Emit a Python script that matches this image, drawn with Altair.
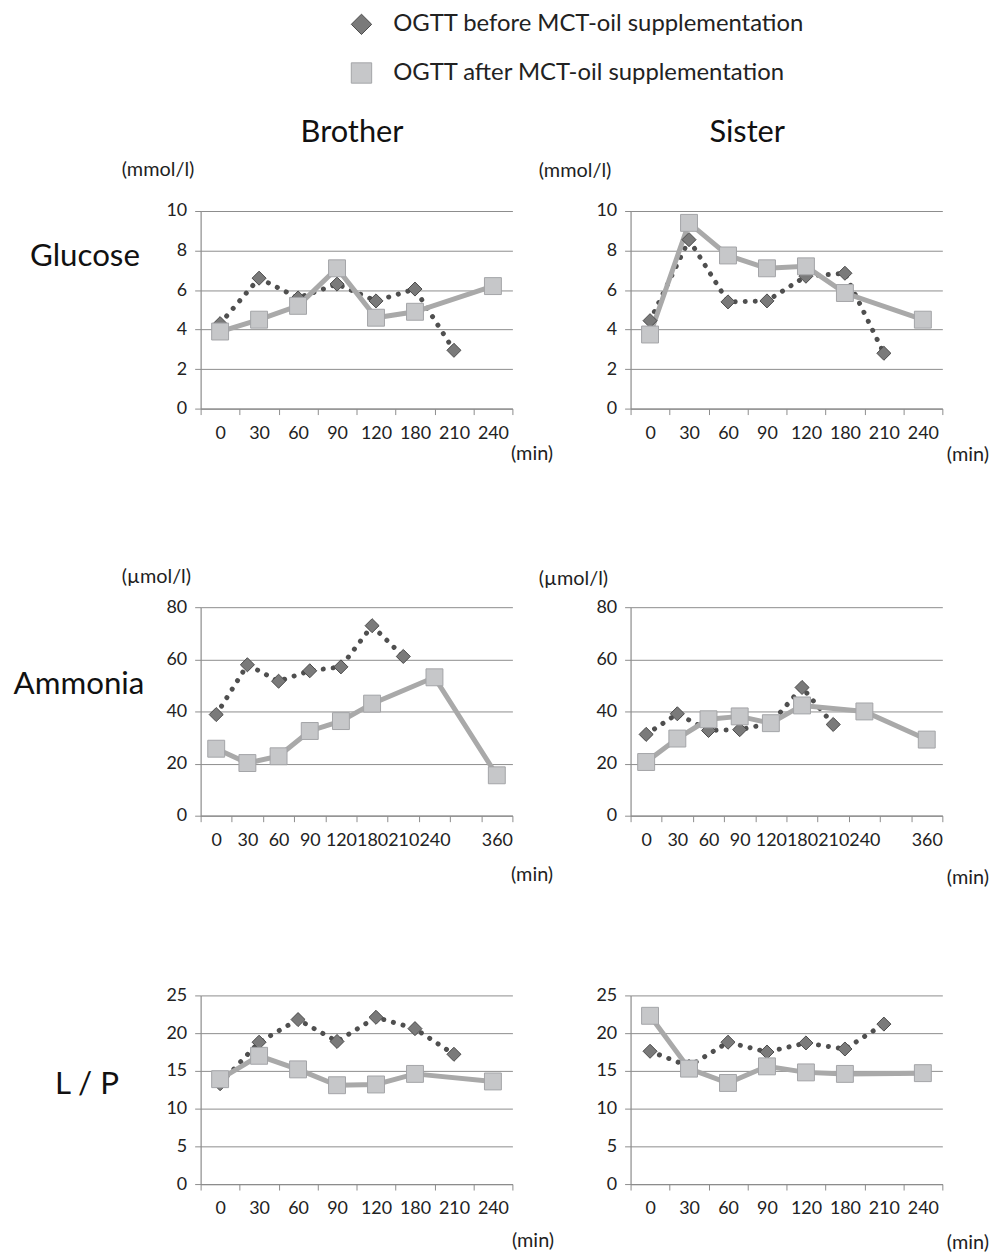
import altair as alt
import pandas as pd

FONT = "Lato"

TIMES_STD = ["0", "30", "60", "90", "120", "180", "210", "240"]
TIMES_NH3 = ["0", "30", "60", "90", "120", "180", "210", "240", " ", "360"]

SERIES = ["OGTT before MCT-oil supplementation", "OGTT after MCT-oil supplementation"]

glu_brother_before = [4.3, 6.6, 5.6, 6.3, 5.45, 6.05, 2.95, None]
glu_brother_after = [3.9, 4.5, 5.2, 7.1, 4.6, 4.9, None, 6.2]
glu_sister_before = [4.45, 8.55, 5.4, 5.45, 6.7, 6.85, 2.8, None]
glu_sister_after = [3.75, 9.4, 7.75, 7.1, 7.2, 5.85, None, 4.5]

nh3_brother_before = [38.8, 57.9, 51.6, 55.6, 57.1, 72.9, 61.1, None, None, None]
nh3_brother_after = [25.7, 20.2, 22.8, 32.5, 36.3, 43.0, None, 53.1, None, 15.5]
nh3_sister_before = [31.2, 39.1, 32.7, 33.0, 35.5, 49.2, 35.0, None, None, None]
nh3_sister_after = [20.6, 29.6, 37.0, 38.1, 35.5, 42.3, None, 40.0, None, 29.2]

lp_brother_before = [13.3, 18.8, 21.8, 18.9, 22.1, 20.6, 17.2, None]
lp_brother_after = [13.9, 17.0, 15.2, 13.1, 13.2, 14.6, None, 13.6]
lp_sister_before = [17.6, 15.6, 18.8, 17.5, 18.7, 17.9, 21.2, None]
lp_sister_after = [22.3, 15.3, 13.4, 15.6, 14.8, 14.6, None, 14.7]

W = 314
GAP_X = 119
GRID = "#8c8c8c"
TEXT = "#1e1e1e"


def make_panel(times, before, after, ymax, ystep, height, top_gap=0,
               unit=None, unit_dx=0, unit_dy=0,
               row_label=None, row_dx=0, row_dy=0,
               header=None, header_dx=0, header_dy=0,
               min_dx=0, min_dy=0, anchor=False, show_legend=False):
    rows = []
    for s, vals in ((SERIES[0], before), (SERIES[1], after)):
        for i, (t, v) in enumerate(zip(times, vals)):
            if v is not None:
                rows.append({"t": t, "v": v, "s": s, "i": i})
    df = pd.DataFrame(rows)
    gh = height + top_gap

    xscale = alt.Scale(type="band", domain=times, paddingInner=0, paddingOuter=0)
    x_main = alt.X(
        "t:N", sort=times, scale=xscale,
        axis=alt.Axis(title="(min)", titleAngle=0, titleAlign="left",
                      titleBaseline="middle", titleX=min_dx, titleY=min_dy,
                      titleFontSize=20, titleFontWeight="normal", titleColor=TEXT,
                      labelAngle=0, tickBand="extent", tickSize=6,
                      labelPadding=10, grid=False, labelFontSize=18),
    )
    x_plain = alt.X("t:N", sort=times, scale=xscale, axis=None)

    yscale = alt.Scale(domain=[0, ymax], nice=False, range=[gh, top_gap])
    yaxis_kw = dict(values=list(range(0, ymax + 1, ystep)), grid=True,
                    tickSize=6, labelPadding=8, labelFontSize=18)
    if row_label:
        y_main = alt.Y("v:Q", scale=yscale,
                       axis=alt.Axis(title=row_label, titleAngle=0, titleAlign="center",
                                     titleBaseline="middle", titleX=row_dx,
                                     titleY=row_dy + top_gap,
                                     titleFontSize=31.5, titleFontWeight="normal",
                                     titleColor="#111", **yaxis_kw))
    elif anchor:
        # transparent anchor text fixing the top-left corner of the whole figure
        y_main = alt.Y("v:Q", scale=yscale,
                       axis=alt.Axis(title=".", titleAngle=0, titleAlign="left",
                                     titleBaseline="top", titleX=-(W + GAP_X + 194),
                                     titleY=-199, titleFontSize=10,
                                     titleColor="rgba(0,0,0,0)", **yaxis_kw))
    else:
        y_main = alt.Y("v:Q", scale=yscale, title=None, axis=alt.Axis(**yaxis_kw))
    y_plain = alt.Y("v:Q", scale=yscale, axis=None)

    if show_legend:
        leg = alt.Legend(title=None, orient="none", legendX=150, legendY=-200,
                         labelFont=FONT, labelFontSize=24, labelColor="#222",
                         symbolSize=420, rowPadding=23, labelOffset=20, labelLimit=1000,
                         symbolStrokeWidth=1, direction="vertical")
    else:
        leg = None

    base = alt.Chart(df).encode(order=alt.Order("i:Q"))

    line_before = base.transform_filter(alt.datum.s == SERIES[0]).mark_line(
        color="#4f4f4f", strokeWidth=5, strokeDash=[0.1, 10], strokeCap="round"
    ).encode(x=x_main, y=y_main)
    line_after = base.transform_filter(alt.datum.s == SERIES[1]).mark_line(
        color="#a9a9a9", strokeWidth=5).encode(x=x_plain, y=y_plain)
    points = base.mark_point(filled=True, opacity=1, strokeWidth=1).encode(
        x=x_plain, y=y_plain,
        shape=alt.Shape("s:N", scale=alt.Scale(domain=SERIES, range=["diamond", "square"]),
                        legend=leg),
        fill=alt.Fill("s:N", scale=alt.Scale(domain=SERIES, range=["#7a7a7a", "#c6c7c9"]),
                      legend=leg),
        stroke=alt.Stroke("s:N", scale=alt.Scale(domain=SERIES, range=["#4a4a4a", "#a3a4a7"]),
                          legend=leg),
        # reversed domain keeps the (hidden) size legend apart from the shared legend
        size=alt.Size("s:N", scale=alt.Scale(domain=SERIES[::-1], range=[290, 200]),
                      legend=None),
    )
    layers = [line_before, line_after, points]
    if header or unit:
        if header:
            x_hdr = alt.X("t:N", sort=times, scale=xscale,
                          axis=alt.Axis(orient="top", title=header, labels=False, ticks=False,
                                        domain=False, grid=False, titleAngle=0,
                                        titleAlign="center", titleBaseline="middle",
                                        titleX=header_dx, titleY=header_dy,
                                        titleFontSize=31, titleFontWeight="normal",
                                        titleColor="#111"))
        else:
            x_hdr = x_plain
        if unit:
            y_hdr = alt.Y("v:Q", scale=yscale,
                          axis=alt.Axis(orient="right", title=unit, labels=False, ticks=False,
                                        domain=False, grid=False, titleAngle=0,
                                        titleAlign="left", titleBaseline="middle",
                                        titleX=unit_dx - W, titleY=unit_dy + top_gap,
                                        titleFontSize=20, titleFontWeight="normal",
                                        titleColor=TEXT))
        else:
            y_hdr = y_plain
        hdr = base.mark_point(opacity=0).encode(x=x_hdr, y=y_hdr)
        layers.append(hdr)
    return alt.layer(*layers).resolve_axis(x="independent", y="independent").properties(
        width=W, height=gh)


glu_b = make_panel(TIMES_STD, glu_brother_before, glu_brother_after, 10, 2, 199,
                   unit="(mmol/l)", unit_dx=-80, unit_dy=-42,
                   row_label="Glucose", row_dx=-117, row_dy=46,
                   header="Brother", header_dx=152, header_dy=-79,
                   min_dx=312, min_dy=45, show_legend=True)
glu_s = make_panel(TIMES_STD, glu_sister_before, glu_sister_after, 10, 2, 199,
                   unit="(mmol/l)", unit_dx=-93, unit_dy=-41,
                   header="Sister", header_dx=117, header_dy=-79,
                   min_dx=318, min_dy=46, anchor=True)
nh3_b = make_panel(TIMES_NH3, nh3_brother_before, nh3_brother_after, 80, 20, 210, top_gap=19,
                   unit="(µmol/l)", unit_dx=-80, unit_dy=-31,
                   row_label="Ammonia", row_dx=-123, row_dy=78,
                   min_dx=312, min_dy=59)
nh3_s = make_panel(TIMES_NH3, nh3_sister_before, nh3_sister_after, 80, 20, 210, top_gap=19,
                   unit="(µmol/l)", unit_dx=-93, unit_dy=-29,
                   min_dx=318, min_dy=62)
lp_b = make_panel(TIMES_STD, lp_brother_before, lp_brother_after, 25, 5, 190,
                  row_label="L / P", row_dx=-115, row_dy=90, min_dx=313, min_dy=57)
lp_s = make_panel(TIMES_STD, lp_sister_before, lp_sister_after, 25, 5, 190,
                  min_dx=318, min_dy=59)

chart = alt.concat(
    glu_b, glu_s, nh3_b, nh3_s, lp_b, lp_s,
    columns=2, spacing={"row": 181, "column": GAP_X}, bounds="flush", align="each",
).resolve_scale(
    shape="independent", fill="independent", stroke="independent", size="independent"
).properties(
    padding={"left": 0, "top": 0, "right": 2, "bottom": 2}
).configure_view(stroke=None).configure_axis(
    labelFont=FONT, titleFont=FONT, labelColor="#222", titleColor=TEXT,
    domainColor=GRID, tickColor=GRID, gridColor=GRID, domainWidth=1.2, gridWidth=1,
).configure_title(font=FONT)

chart.save("out.html", embed_options={"renderer": "svg", "actions": False})
